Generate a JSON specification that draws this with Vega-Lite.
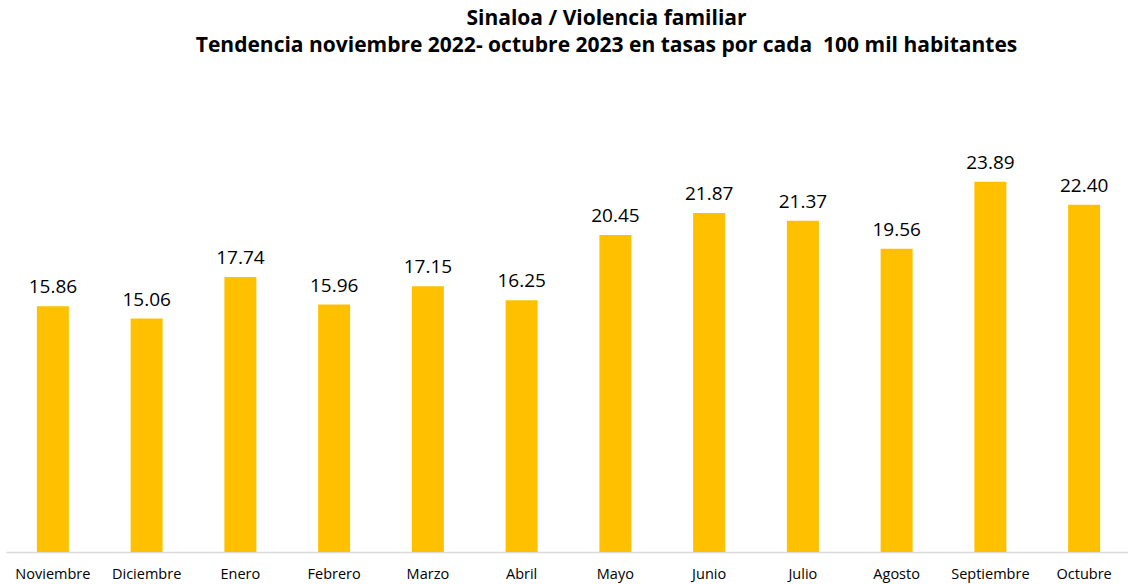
{
  "$schema": "https://vega.github.io/schema/vega-lite/v6.json",
  "autosize": {"type": "none"},
  "width": 1125,
  "height": 465,
  "padding": {"left": 6, "top": 87, "right": 0, "bottom": 32},
  "background": "white",
  "title": {
    "text": ["Sinaloa / Violencia familiar", "Tendencia noviembre 2022- octubre 2023 en tasas por cada \u00a0100 mil habitantes"],
    "font": "Open Sans",
    "fontSize": 21,
    "fontWeight": "bold",
    "color": "#000000",
    "anchor": "middle",
    "dx": 38,
    "offset": 31,
    "lineHeight": 27
  },
  "data": {
    "values": [
      {"mes": "Noviembre", "tasa": 15.86},
      {"mes": "Diciembre", "tasa": 15.06},
      {"mes": "Enero", "tasa": 17.74},
      {"mes": "Febrero", "tasa": 15.96},
      {"mes": "Marzo", "tasa": 17.15},
      {"mes": "Abril", "tasa": 16.25},
      {"mes": "Mayo", "tasa": 20.45},
      {"mes": "Junio", "tasa": 21.87},
      {"mes": "Julio", "tasa": 21.37},
      {"mes": "Agosto", "tasa": 19.56},
      {"mes": "Septiembre", "tasa": 23.89},
      {"mes": "Octubre", "tasa": 22.40}
    ]
  },
  "encoding": {
    "x": {
      "field": "mes", "type": "nominal", "sort": null,
      "axis": {
        "title": null, "labelAngle": 0, "ticks": false,
        "domainColor": "#d9d9d9", "domainWidth": 1.5,
        "labelFont": "Open Sans", "labelFontSize": 14.5, "labelColor": "#000000",
        "labelPadding": 15
      }
    },
    "y": {
      "field": "tasa", "type": "quantitative",
      "scale": {"domain": [0, 30]},
      "axis": null
    }
  },
  "layer": [
    {"mark": {"type": "bar", "color": "#FFC000", "size": 32}},
    {
      "mark": {"type": "text", "baseline": "bottom", "dy": -9, "font": "Open Sans", "fontSize": 19, "color": "#000000"},
      "encoding": {"text": {"field": "tasa", "type": "quantitative", "format": ".2f"}}
    }
  ],
  "config": {"view": {"stroke": null}}
}
